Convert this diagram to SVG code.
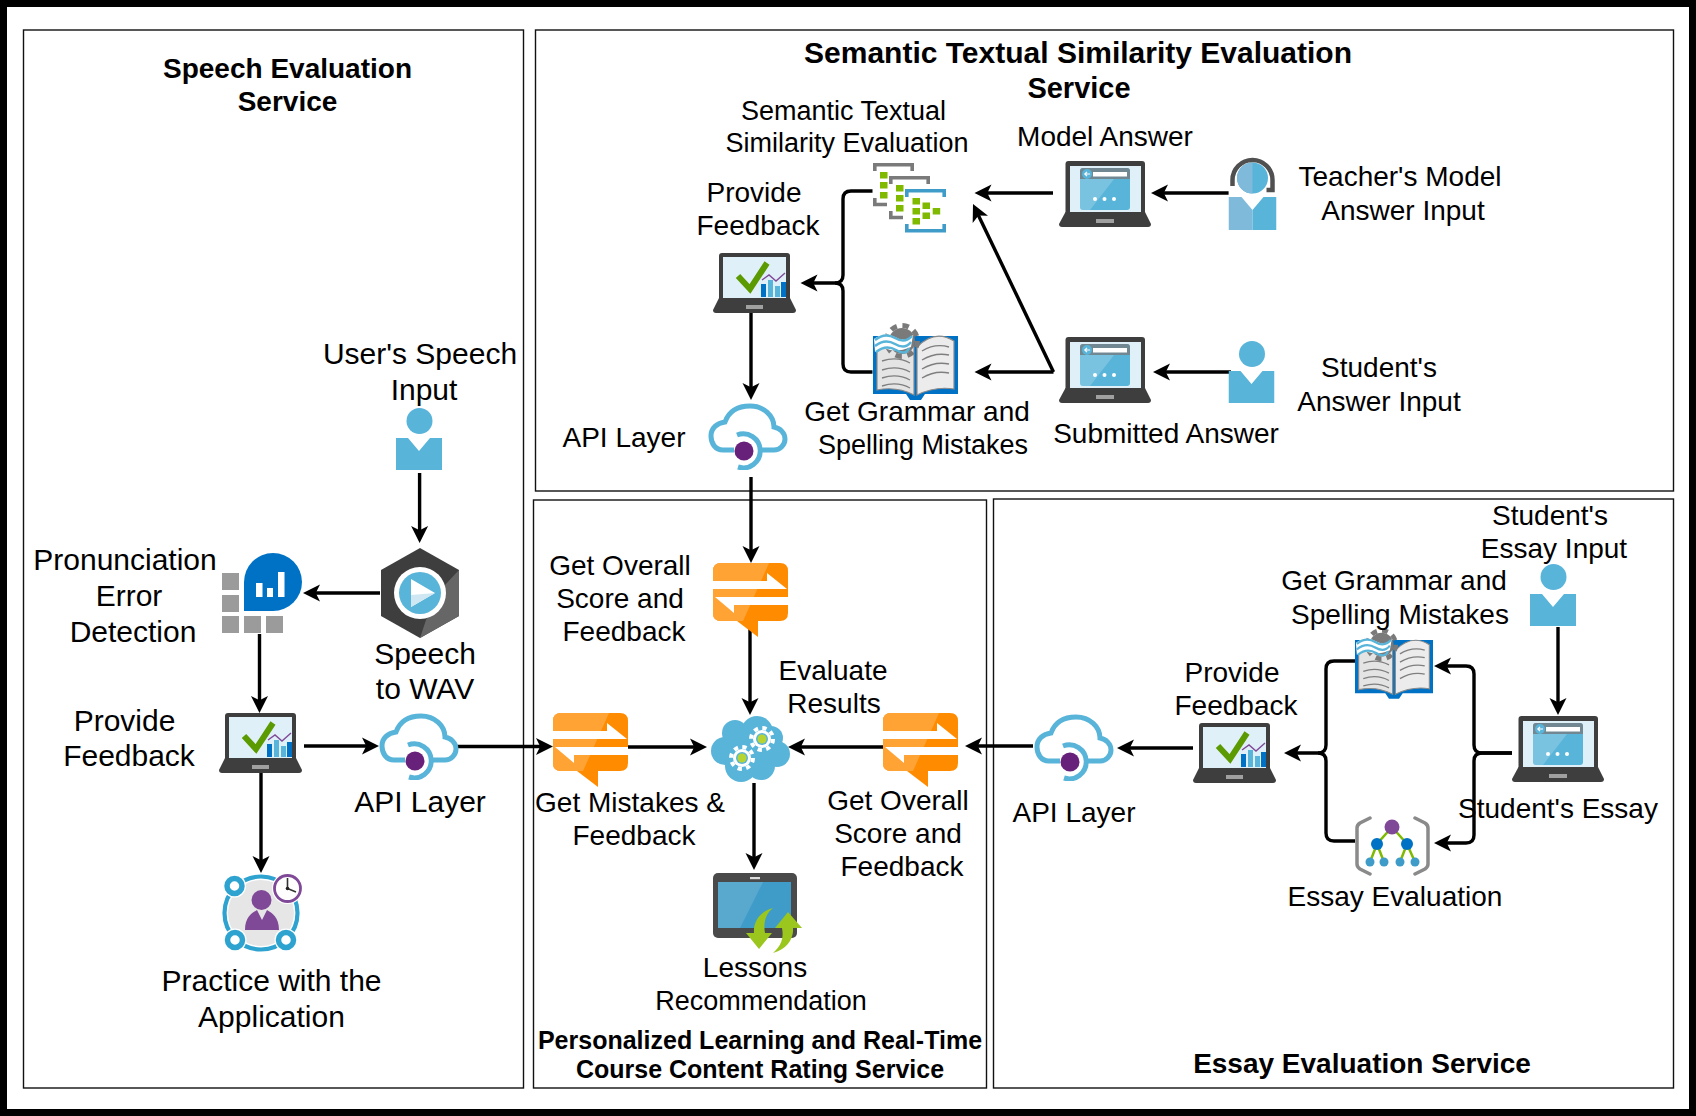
<svg xmlns="http://www.w3.org/2000/svg" xmlns:xlink="http://www.w3.org/1999/xlink" width="1696" height="1116" viewBox="0 0 1696 1116">
<style>
text{font-family:"Liberation Sans",Arial,sans-serif;fill:#000;text-anchor:middle}
.t30{font-size:30px}.t28{font-size:28px}.t27{font-size:27px}.b28{font-size:28px;font-weight:bold}.b29{font-size:29px;font-weight:bold}.b30{font-size:30px;font-weight:bold}.b25{font-size:25px;font-weight:bold}
.panel{fill:#fff;stroke:#111;stroke-width:1.4}
.c{fill:none;stroke:#000;stroke-width:3.4;marker-end:url(#arrow)}
.j{fill:none;stroke:#000;stroke-width:3.4}
</style>
<defs>
<marker id="arrow" markerUnits="userSpaceOnUse" markerWidth="18" markerHeight="18" refX="11" refY="8.5" orient="auto" overflow="visible"><path d="M17,8.5 L0,0 L4.200,8.5 L0,17 Z" fill="#000"/></marker>
<symbol id="lapcheck" viewBox="0 0 83 60">
<rect x="6" y="0" width="71" height="48" rx="3" fill="#3e3e3e"/>
<path d="M6,45 H77 L83,57 Q83,60 80,60 H3 Q0,60 0,57 Z" fill="#3e3e3e"/>
<rect x="10" y="4" width="63" height="41" fill="#dff0f8"/>
<rect x="33" y="52" width="17" height="4" fill="#a0a0a0"/>
<path d="M25,23 L37,36 L54,10" fill="none" stroke="#5b9a00" stroke-width="6"/>
<rect x="48" y="31" width="5" height="13" fill="#0072c6"/><rect x="55" y="27" width="5" height="17" fill="#59b4d9"/><rect x="62" y="33" width="5" height="11" fill="#59b4d9"/><rect x="68" y="29" width="5" height="15" fill="#0072c6"/>
<path d="M49,27 L56,22 L63,28 L72,20" fill="none" stroke="#804998" stroke-width="1.4"/>
</symbol>
<symbol id="lapform" viewBox="0 0 92 66">
<rect x="6.500" y="0" width="79.500" height="54" rx="3" fill="#3e3e3e"/>
<path d="M6.500,51 H86 L92,63 Q92,66 89,66 H3 Q0,66 0,63 Z" fill="#3e3e3e"/>
<rect x="11" y="5" width="71" height="46" fill="#dff0f8"/>
<rect x="21" y="7" width="50" height="42" rx="3" fill="#59b4d9"/>
<path d="M21,18 V10 Q21,7 24,7 H68 Q71,7 71,10 V18 Z" fill="#7a7a7a" opacity=".75"/>
<path d="M21,18 H55 L31,49 H24 Q21,49 21,46 Z" fill="#fff" opacity=".2"/>
<rect x="34" y="11" width="34" height="4.500" fill="#fff"/><circle cx="28" cy="13" r="5" fill="#59b4d9"/><path d="M31,13 H26 M28,10.800 L25.800,13 L28,15.200" stroke="#fff" stroke-width="1.200" fill="none"/>
<circle cx="36" cy="38" r="2" fill="#fff"/><circle cx="45.500" cy="38" r="2" fill="#fff"/><circle cx="55" cy="38" r="2" fill="#fff"/>
<rect x="37" y="58" width="18" height="4" fill="#a0a0a0"/>
</symbol>
<symbol id="user" viewBox="0 0 46 62">
<circle cx="23.500" cy="13" r="13" fill="#59b4d9"/>
<path d="M0,30 H12 L23,43 L34,30 H46 V62 H0 Z" fill="#59b4d9"/>
</symbol>
<symbol id="teacher" viewBox="0 0 48 74">
<circle cx="24" cy="22" r="15.500" fill="#59b4d9"/><path d="M24,6.500 A15.500,15.500 0 0 0 24,37.500 Z" fill="#7fbadb"/>
<path d="M4,30 V24 A20,20 0 0 1 44,24 V34 H38" fill="none" stroke="#505050" stroke-width="4.500"/>
<path d="M0,41 H13 L24,54 V74 H0 Z" fill="#7fbadb"/><path d="M48,41 H35 L24,54 V74 H48 Z" fill="#59b4d9"/>
</symbol>
<symbol id="hex" viewBox="0 0 80 90">
<polygon points="40,0 79,22 79,68 40,90 1,68 1,22" fill="#3e3e3e"/>
<polygon points="79,22 79,68 40,90 46,72 64,38" fill="#666"/>
<circle cx="40" cy="45" r="26" fill="#fff"/><circle cx="40" cy="45" r="21" fill="#59b4d9"/>
<polygon points="31,31 55,45 31,59" fill="#fff"/><polygon points="31,47 55,45 31,59" fill="#cfe7f3"/>
</symbol>
<symbol id="pron" viewBox="0 0 81 80">
<path d="M22,58 V29 A29,29 0 1 1 51,58 Z" fill="#0072c6"/>
<rect x="34" y="30" width="6.500" height="14" fill="#fff"/><rect x="45" y="35" width="6" height="9" fill="#fff"/><rect x="56" y="19" width="6.500" height="25" fill="#fff"/>
<g fill="#9b9b9b"><rect x="0" y="20" width="17" height="17"/><rect x="0" y="42" width="17" height="17"/><rect x="0" y="63" width="17" height="17"/><rect x="22" y="63" width="17" height="17"/><rect x="44" y="63" width="17" height="17"/></g>
</symbol>
<symbol id="sim" viewBox="0 0 73 70">
<g fill="none" stroke="#7a7a7a" stroke-width="3.600">
<path d="M1.800,8 V1.800 H39.200 V8 M1.800,35 V41.500 H14"/>
<path d="M17.800,21 V14.800 H55.200 V21 M17.800,48 V54.500 H30"/>
</g>
<path d="M33.800,34 V27.800 H71.200 V34 M33.800,61 V67.800 H71.200 V61" fill="none" stroke="#3f9cc9" stroke-width="3.600"/>
<g fill="#7fba00"><rect x="7" y="9" width="7.500" height="6.500"/><rect x="7" y="19" width="7.500" height="6.500"/><rect x="7" y="29" width="7.500" height="6.500"/>
<rect x="23" y="22" width="7.500" height="6.500"/><rect x="23" y="32" width="7.500" height="6.500"/><rect x="23" y="42" width="7.500" height="6.500"/>
<rect x="39.500" y="35" width="7.500" height="6.500"/><rect x="39.500" y="45" width="7.500" height="6.500"/><rect x="39.500" y="55" width="7.500" height="6.500"/><rect x="49.500" y="39.500" width="7.500" height="6.500"/><rect x="49.500" y="49.500" width="7.500" height="6.500"/><rect x="59.700" y="45" width="7.500" height="6.500"/></g>
</symbol>
<symbol id="book" viewBox="0 0 85 77">
<path d="M0,13 H85 V71 H52 L48,77 H37 L33,71 H0 Z" fill="#0072c6"/>
<path d="M4,18 Q24,14 41,24 V72 Q24,63 4,67 Z" fill="#e4e4e4" stroke="#8a8a8a" stroke-width="1.200"/>
<path d="M81,18 Q62,6 44,24 V72 Q62,63 81,66 Z" fill="#ececec" stroke="#8a8a8a" stroke-width="1.200"/>
<g fill="none" stroke="#7f7f7f" stroke-width="1.400"><path d="M9,38 Q24,33 37,40 M9,47 Q24,42 37,49 M9,55 Q24,50 37,57 M9,63 Q24,58 37,65 M49,28 Q62,20 76,24 M49,37 Q62,29 76,32 M49,46 Q62,38 76,41 M49,55 Q62,47 76,50"/></g>
<circle cx="29" cy="18" r="13" fill="#7a7a7a"/>
<circle cx="29" cy="18" r="15.500" fill="none" stroke="#7a7a7a" stroke-width="5" stroke-dasharray="6.500 5.670"/>
<path d="M1,16 Q12,8 22,14 T40,12 L38,24 Q24,30 14,26 Q8,25 2,29 Z" fill="#fff"/>
<path d="M2,17 Q12,9 22,15 T39,13 M2,23 Q12,15 22,21 T38,19 M3,29 Q13,21 23,27 T36,25" fill="none" stroke="#59b4d9" stroke-width="2.400"/>
</symbol>
<symbol id="api" viewBox="0 0 80 67">
<path d="M26,47 H15 C7,47 3,40 3,33 C3,25 9,20 17,19 C21,8 30,3 42,3 C56,3 66,13 66,24 C72,25 77,30 77,36 C77,42 72,47 66,47 H53" fill="none" stroke="#59b4d9" stroke-width="5"/>
<path d="M29,32 A17,17 0 1 1 30,64" fill="none" stroke="#59b4d9" stroke-width="5"/>
<circle cx="36" cy="48" r="9.500" fill="#68217a"/>
</symbol>
<symbol id="msg" viewBox="0 0 75 74">
<path d="M8,0 H67 Q75,0 75,8 V50 Q75,58 67,58 H45 V74 L24,58 H8 Q0,58 0,50 V8 Q0,0 8,0 Z" fill="#ff8c00"/>
<path d="M8,0 H56 L30,58 H8 Q0,58 0,50 V8 Q0,0 8,0 Z" fill="#ffa335"/>
<polygon points="0,18 54,18 54,10 74,26 0,26" fill="#fff"/>
<polygon points="75,34 2,34 21,50 21,42 75,42" fill="#fff"/>
</symbol>
<g id="gear"><circle r="11" fill="none" stroke="#fff" stroke-width="4" stroke-dasharray="4.300 4.340"/><circle r="9" fill="#fff"/><circle r="6" fill="#59b4d9"/><circle r="4.500" fill="#b8d432"/></g>
<symbol id="cloudgear" viewBox="0 0 79 66">
<g fill="#59b4d9"><circle cx="14" cy="35" r="14"/><circle cx="24" cy="17" r="13"/><circle cx="46" cy="16" r="16"/><circle cx="66" cy="38" r="13"/><circle cx="60" cy="22" r="12"/><circle cx="30" cy="50" r="16"/><circle cx="50" cy="50" r="14"/><circle cx="40" cy="35" r="20"/></g>
<use href="#gear" xlink:href="#gear" x="51" y="23"/><use href="#gear" xlink:href="#gear" x="31" y="42"/>
</symbol>
<symbol id="tablet" viewBox="0 0 89 80">
<rect x="0" y="0" width="84" height="65" rx="5" fill="#4a4a4a"/>
<rect x="5" y="9" width="73" height="46" fill="#3f9cc9"/><path d="M5,9 H50 L27,55 H5 Z" fill="#59a9cf"/>
<rect x="37" y="4" width="10" height="2.200" fill="#ddd"/>
<path d="M60,35 C48,38 40,48 41,60 H33 L46,76 L59,60 H52 C50,50 53,40 60,35 Z" fill="#9ac61e"/>
<path d="M60,80 C72,77 81,67 80,55 H89 L75,39 L62,55 H69 C71,65 68,73 60,80 Z" fill="#9ac61e"/>
</symbol>
<symbol id="practice" viewBox="0 0 80 80">
<circle cx="39" cy="40" r="33" fill="#e6e6e6"/>
<circle cx="39" cy="40" r="36.500" fill="none" stroke="#2ea3cf" stroke-width="4.200"/>
<g fill="#fff"><circle cx="12.500" cy="13" r="11.500"/><circle cx="13" cy="67" r="11.500"/><circle cx="64" cy="67" r="11.500"/></g>
<g fill="#fff" stroke="#2ea3cf" stroke-width="5.500"><circle cx="12.500" cy="13" r="7.500"/><circle cx="13" cy="67" r="7.500"/><circle cx="64" cy="67" r="7.500"/></g>
<circle cx="39.500" cy="27" r="10" fill="#804998"/>
<path d="M23,57 C23,44 30,40 35,37 L40,47 L45,37 C50,40 57,44 57,57 Z" fill="#804998"/>
<circle cx="65.500" cy="15.500" r="15.500" fill="#fff"/>
<circle cx="65.500" cy="15.500" r="13" fill="#fff" stroke="#804998" stroke-width="2.800"/>
<path d="M65.500,5 V15.500 L74,19" fill="none" stroke="#333" stroke-width="1.600"/>
<circle cx="65.500" cy="15.500" r="1.800" fill="#222"/>
</symbol>
<symbol id="essay" viewBox="0 0 75 60">
<g fill="none" stroke="#8a8a8a" stroke-width="3.500" stroke-linecap="round"><path d="M15,2 L5,7 Q2,9 2,12 V48 Q2,51 5,53 L15,58"/><path d="M60,2 L70,7 Q73,9 73,12 V48 Q73,51 70,53 L60,58"/></g>
<g fill="none" stroke="#7fba00" stroke-width="2.500"><path d="M37,11 L22,28 L15,46 M22,28 L29,46 M37,11 L52,28 L45,46 M52,28 L60,46"/></g>
<circle cx="37" cy="11" r="7.500" fill="#804998"/>
<g fill="#0072c6"><circle cx="22" cy="28" r="6"/><circle cx="52" cy="28" r="6"/></g>
<g fill="#3f9cc9"><circle cx="15" cy="46" r="4.500"/><circle cx="29" cy="46" r="4.500"/><circle cx="45" cy="46" r="4.500"/><circle cx="60" cy="46" r="4.500"/></g>
</symbol>
</defs>
<rect width="1696" height="1116" fill="#fff"/>
<rect x="3.500" y="3.500" width="1689" height="1109" fill="none" stroke="#000" stroke-width="7"/>
<g id="panels">
<g id="panel-speech"><rect class="panel" x="23.500" y="30" width="500" height="1058"/><text class="b28" x="287.500" y="78">Speech Evaluation</text><text class="b28" x="287.500" y="111">Service</text></g>
<g id="panel-semantic"><rect class="panel" x="535.500" y="30" width="1138" height="461"/><text class="b30" x="1078" y="63">Semantic Textual Similarity Evaluation</text><text class="b29" x="1079" y="98">Service</text></g>
<g id="panel-personalized"><rect class="panel" x="533.500" y="500" width="453" height="588"/><text class="b25" x="760" y="1049">Personalized Learning and Real-Time</text><text class="b25" x="760" y="1078">Course Content Rating Service</text></g>
<g id="panel-essay"><rect class="panel" x="993.500" y="499" width="680" height="589"/><text class="b28" x="1362" y="1073">Essay Evaluation Service</text></g>
</g>
<g id="connectors">
<path class="c" d="M419.600,473 V537"/>
<path class="c" d="M380,593 H309"/>
<path class="c" d="M259.500,634 V707"/>
<path class="c" d="M304,746 H373"/>
<path class="c" d="M261,773 V867"/>
<path class="c" d="M454,746.500 H547"/>
<path class="c" d="M751,477 V557"/>
<path class="c" d="M751,313 V394"/>
<path class="c" d="M750,628 V709"/>
<path class="c" d="M628,747 H701"/>
<path class="c" d="M883,747 H794"/>
<path class="c" d="M1033,746 H971"/>
<path class="c" d="M754,783 V864"/>
<path class="c" d="M1193,748 H1123"/>
<path class="c" d="M1558,627 V709"/>
<path class="c" d="M1512,753 H1482 Q1474,753 1474,745 V674 Q1474,666 1466,666 H1440"/>
<path class="c" d="M1512,753 H1482 Q1474,753 1474,761 V835 Q1474,843 1466,843 H1440"/>
<path class="c" d="M1355,661 H1334 Q1326,661 1326,669 V745 Q1326,753 1318,753 H1290"/>
<path class="j" d="M1355,841 H1334 Q1326,841 1326,833 V761 Q1326,753 1318,753"/>
<path class="c" d="M872.500,191 H851 Q843,191 843,199 V275 Q843,283 835,283 H806.500"/>
<path class="j" d="M872.500,372 H851 Q843,372 843,364 V291 Q843,283 835,283"/>
<path class="c" d="M1228.600,193 H1157"/>
<path class="c" d="M1053,193 H980.500"/>
<path class="c" d="M1231,372 H1159"/>
<path class="c" d="M1053.500,372 H980.500"/>
<path class="c" d="M1053.500,372 L975.600,209.400"/>
</g>
<g id="user-speech"><use href="#user" xlink:href="#user" x="396" y="408" width="46" height="62"/><text class="t30" x="420" y="364">User's Speech</text><text class="t30" x="424" y="400">Input</text></g>
<g id="speech-wav"><use href="#hex" xlink:href="#hex" x="380" y="548" width="80" height="90"/><text class="t30" x="425" y="664">Speech</text><text class="t30" x="425" y="699">to WAV</text></g>
<g id="pronunciation"><use href="#pron" xlink:href="#pron" x="222" y="553" width="81" height="80"/><text class="t30" x="125" y="570">Pronunciation</text><text class="t30" x="129" y="606">Error</text><text class="t30" x="133" y="642">Detection</text></g>
<g id="feedback-speech"><use href="#lapcheck" xlink:href="#lapcheck" x="219" y="713" width="83" height="60"/><text class="t30" x="124.500" y="731">Provide</text><text class="t30" x="129" y="766">Feedback</text></g>
<g id="api-speech"><use href="#api" xlink:href="#api" x="379" y="713" width="80" height="67"/><text class="t30" x="420" y="812">API Layer</text></g>
<g id="practice-app"><use href="#practice" xlink:href="#practice" x="222" y="873" width="80" height="80"/><text class="t30" x="271.500" y="991">Practice with the</text><text class="t30" x="271.500" y="1027">Application</text></g>
<g id="similarity"><use href="#sim" xlink:href="#sim" x="873" y="163" width="73" height="70"/><text class="t27" x="843.500" y="120">Semantic Textual</text><text class="t27" x="847" y="152">Similarity Evaluation</text></g>
<g id="model-answer"><use href="#lapform" xlink:href="#lapform" x="1059" y="161" width="92" height="66"/><text class="t28" x="1105" y="146">Model Answer</text></g>
<g id="teacher-input"><use href="#teacher" xlink:href="#teacher" x="1228.500" y="156" width="48" height="74"/><text class="t28" x="1400" y="186">Teacher's Model</text><text class="t28" x="1403" y="220">Answer Input</text></g>
<g id="feedback-semantic"><use href="#lapcheck" xlink:href="#lapcheck" x="713" y="253" width="83" height="60"/><text class="t28" x="754" y="202">Provide</text><text class="t28" x="758" y="235">Feedback</text></g>
<g id="grammar-semantic"><use href="#book" xlink:href="#book" x="873" y="323" width="85" height="77"/><text class="t28" x="917" y="421">Get Grammar and</text><text class="t27" x="923" y="454">Spelling Mistakes</text></g>
<g id="submitted-answer"><use href="#lapform" xlink:href="#lapform" x="1059" y="337" width="92" height="66"/><text class="t28" x="1166" y="443">Submitted Answer</text></g>
<g id="student-answer"><use href="#user" xlink:href="#user" x="1228.500" y="341" width="46" height="62"/><text class="t28" x="1379" y="377">Student's</text><text class="t28" x="1379" y="411">Answer Input</text></g>
<g id="api-semantic"><use href="#api" xlink:href="#api" x="708" y="403" width="80" height="67"/><text class="t28" x="624" y="447">API Layer</text></g>
<g id="overall-top"><use href="#msg" xlink:href="#msg" x="713" y="563" width="75" height="74"/><text class="t28" x="620" y="575">Get Overall</text><text class="t28" x="620" y="608">Score and</text><text class="t28" x="624" y="641">Feedback</text></g>
<g id="evaluate"><use href="#cloudgear" xlink:href="#cloudgear" x="711" y="716" width="79" height="66"/><text class="t28" x="833" y="680">Evaluate</text><text class="t28" x="834" y="713">Results</text></g>
<g id="mistakes-left"><use href="#msg" xlink:href="#msg" x="553" y="713" width="75" height="74"/><text class="t28" x="630" y="812">Get Mistakes &amp;</text><text class="t28" x="634" y="845">Feedback</text></g>
<g id="overall-right"><use href="#msg" xlink:href="#msg" x="883" y="713" width="75" height="74"/><text class="t28" x="898" y="810">Get Overall</text><text class="t28" x="898" y="843">Score and</text><text class="t28" x="902" y="876">Feedback</text></g>
<g id="lessons"><use href="#tablet" xlink:href="#tablet" x="713" y="873" width="89" height="80"/><text class="t28" x="755" y="977">Lessons</text><text class="t27" x="761" y="1010">Recommendation</text></g>
<g id="api-essay"><use href="#api" xlink:href="#api" x="1034" y="714" width="80" height="67"/><text class="t28" x="1074" y="822">API Layer</text></g>
<g id="feedback-essay"><use href="#lapcheck" xlink:href="#lapcheck" x="1193" y="723" width="83" height="60"/><text class="t28" x="1232" y="682">Provide</text><text class="t28" x="1236" y="715">Feedback</text></g>
<g id="grammar-essay"><use href="#book" xlink:href="#book" x="1355" y="628" width="78" height="71"/><text class="t28" x="1394" y="590">Get Grammar and</text><text class="t28" x="1400" y="624">Spelling Mistakes</text></g>
<g id="essay-eval"><use href="#essay" xlink:href="#essay" x="1355" y="816" width="75" height="60"/><text class="t28" x="1395" y="906">Essay Evaluation</text></g>
<g id="student-essay"><use href="#lapform" xlink:href="#lapform" x="1512" y="716" width="92" height="66"/><text class="t28" x="1558" y="818">Student's Essay</text></g>
<g id="student-input"><use href="#user" xlink:href="#user" x="1530" y="564" width="46" height="62"/><text class="t28" x="1550" y="525">Student's</text><text class="t28" x="1554" y="558">Essay Input</text></g>
</svg>
